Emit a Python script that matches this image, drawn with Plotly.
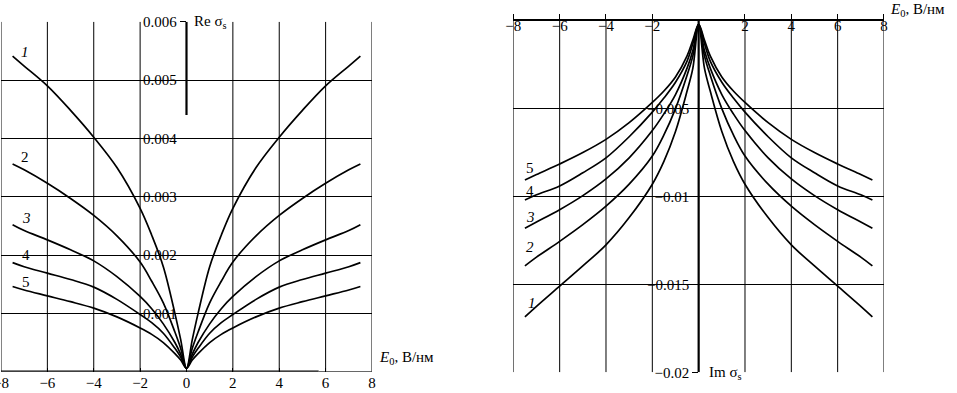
import plotly.graph_objects as go

# ---------------- data ----------------
E0 = [-7.5, -7, -6, -5, -4, -3, -2, -1.5, -1, -0.5, -0.25, 0,
      0.25, 0.5, 1, 1.5, 2, 3, 4, 5, 6, 7, 7.5]

re_1 = [0.00541, 0.00524, 0.00490, 0.00448, 0.00402, 0.00350, 0.00280, 0.00234, 0.00180, 0.00100, 0.00055, 0.00006,
        0.00055, 0.00100, 0.00180, 0.00234, 0.00280, 0.00350, 0.00402, 0.00448, 0.00490, 0.00524, 0.00541]
re_2 = [0.00356, 0.00346, 0.00323, 0.00297, 0.00268, 0.00233, 0.00188, 0.00155, 0.00118, 0.00068, 0.00040, 0.00006,
        0.00040, 0.00068, 0.00118, 0.00155, 0.00188, 0.00233, 0.00268, 0.00297, 0.00323, 0.00346, 0.00356]
re_3 = [0.00252, 0.00242, 0.00226, 0.00209, 0.00190, 0.00163, 0.00129, 0.00108, 0.00082, 0.00050, 0.00030, 0.00006,
        0.00030, 0.00050, 0.00082, 0.00108, 0.00129, 0.00163, 0.00190, 0.00209, 0.00226, 0.00242, 0.00252]
re_4 = [0.00187, 0.00180, 0.00169, 0.00158, 0.00145, 0.00124, 0.00098, 0.00084, 0.00066, 0.00040, 0.00025, 0.00006,
        0.00025, 0.00040, 0.00066, 0.00084, 0.00098, 0.00124, 0.00145, 0.00158, 0.00169, 0.00180, 0.00187]
re_5 = [0.00146, 0.00140, 0.00130, 0.00120, 0.00109, 0.00094, 0.00075, 0.00064, 0.00050, 0.00031, 0.00020, 0.00006,
        0.00020, 0.00031, 0.00050, 0.00064, 0.00075, 0.00094, 0.00109, 0.00120, 0.00130, 0.00140, 0.00146]

im_1 = [-0.01685, -0.01625, -0.01510, -0.01395, -0.01275, -0.01120, -0.00930, -0.00800, -0.00630, -0.00400, -0.00270, -0.00020,
        -0.00270, -0.00400, -0.00630, -0.00800, -0.00930, -0.01120, -0.01275, -0.01395, -0.01510, -0.01625, -0.01685]
im_2 = [-0.01395, -0.01345, -0.01255, -0.01160, -0.01055, -0.00930, -0.00770, -0.00650, -0.00500, -0.00310, -0.00200, -0.00020,
        -0.00200, -0.00310, -0.00500, -0.00650, -0.00770, -0.00930, -0.01055, -0.01160, -0.01255, -0.01345, -0.01395]
im_3 = [-0.01180, -0.01145, -0.01075, -0.00995, -0.00900, -0.00780, -0.00625, -0.00530, -0.00420, -0.00270, -0.00170, -0.00020,
        -0.00170, -0.00270, -0.00420, -0.00530, -0.00625, -0.00780, -0.00900, -0.00995, -0.01075, -0.01145, -0.01180]
im_4 = [-0.01020, -0.00990, -0.00940, -0.00865, -0.00780, -0.00660, -0.00520, -0.00440, -0.00350, -0.00230, -0.00130, -0.00020,
        -0.00130, -0.00230, -0.00350, -0.00440, -0.00520, -0.00660, -0.00780, -0.00865, -0.00940, -0.00990, -0.01020]
im_5 = [-0.00906, -0.00875, -0.00815, -0.00750, -0.00675, -0.00580, -0.00465, -0.00400, -0.00320, -0.00200, -0.00110, -0.00020,
        -0.00110, -0.00200, -0.00320, -0.00400, -0.00465, -0.00580, -0.00675, -0.00750, -0.00815, -0.00875, -0.00906]

curve_names = ["1", "2", "3", "4", "5"]
x_ticks_left = [-8, -6, -4, -2, 0, 2, 4, 6, 8]
x_ticks_right = [-8, -6, -4, -2, 2, 4, 6, 8]
x_grid_left = [-8, -6, -4, -2, 2, 4, 6, 8]
x_grid_right = [-8, -6, -4, -2, 2, 4, 6, 8]
re_ticks = [0.001, 0.002, 0.003, 0.004, 0.005, 0.006]
im_ticks = [-0.02, -0.015, -0.01, -0.005]

FONT = "Liberation Serif"
fig = go.Figure()

for ys in [re_1, re_2, re_3, re_4, re_5]:
    fig.add_trace(go.Scatter(x=E0, y=ys, mode="lines", xaxis="x", yaxis="y",
                             line=dict(color="black", width=1.7, shape="spline", smoothing=1.0),
                             showlegend=False, hoverinfo="skip"))
for ys in [im_1, im_2, im_3, im_4, im_5]:
    fig.add_trace(go.Scatter(x=E0, y=ys, mode="lines", xaxis="x2", yaxis="y2",
                             line=dict(color="black", width=1.7, shape="spline", smoothing=1.0),
                             showlegend=False, hoverinfo="skip"))

shapes = []
for gx in x_grid_left:
    shapes.append(dict(type="line", xref="x", yref="y", x0=gx, x1=gx, y0=0, y1=0.006,
                       line=dict(color="black", width=1), layer="below"))
shapes.append(dict(type="line", xref="x", yref="y", x0=0, x1=0, y0=0.0044, y1=0.006,
                   line=dict(color="black", width=2.2)))
shapes.append(dict(type="line", xref="x", yref="y", x0=-8, x1=5.7, y0=0, y1=0,
                   line=dict(color="black", width=2.2)))
shapes.append(dict(type="line", xref="x", yref="y", x0=5.7, x1=8, y0=0, y1=0,
                   line=dict(color="black", width=1)))
for gx in x_grid_right:
    shapes.append(dict(type="line", xref="x2", yref="y2", x0=gx, x1=gx, y0=-0.02, y1=0,
                       line=dict(color="black", width=1), layer="below"))
shapes.append(dict(type="line", xref="x2", yref="y2", x0=0, x1=0, y0=-0.02, y1=0,
                   line=dict(color="black", width=2.2)))

tickfont = dict(family=FONT, size=15, color="black")

fig.update_layout(
    width=957, height=393,
    margin=dict(l=0, r=0, t=0, b=0, autoexpand=False),
    paper_bgcolor="white", plot_bgcolor="white",
    shapes=shapes,
    xaxis=dict(domain=[0.00104, 0.3887], range=[-8, 8], anchor="y", automargin=False,
               tickvals=x_ticks_left, ticks="inside", ticklen=4, tickcolor="black",
               ticklabeloverflow="allow",
               showgrid=False, zeroline=False, showline=False,
               tickfont=tickfont),
    yaxis=dict(domain=[0.0542, 0.9448], range=[0, 0.006], anchor="free", position=0.194,
               automargin=False,
               tickvals=re_ticks, ticks="outside", ticklen=6, tickcolor="black",
               showgrid=True, gridcolor="black", gridwidth=1,
               zeroline=False, showline=False, tickfont=tickfont),
    xaxis2=dict(domain=[0.5364, 0.9237], range=[-8, 8], anchor="y2", side="top",
                automargin=False,
                tickvals=x_ticks_right, ticks="outside", ticklen=5, tickcolor="black",
                ticklabelposition="inside", ticklabeloverflow="allow",
                showgrid=False, zeroline=False, showline=True, linecolor="black", linewidth=2.2,
                tickfont=tickfont),
    yaxis2=dict(domain=[0.0527, 0.9473], range=[-0.02, 0], anchor="free", position=0.7297,
                automargin=False,
                tickvals=im_ticks, ticks="outside", ticklen=6, tickcolor="black",
                showgrid=True, gridcolor="black", gridwidth=1,
                zeroline=False, showline=False, tickfont=tickfont),
)

ann_font = dict(family=FONT, size=15, color="black")
annotations = [
    dict(text="Re σ<sub>s</sub>", x=0.2006, y=0.944, xref="paper", yref="paper",
         xanchor="left", yanchor="middle", showarrow=False, font=ann_font),
    dict(text="Im σ<sub>s</sub>", x=0.7388, y=0.050, xref="paper", yref="paper",
         xanchor="left", yanchor="middle", showarrow=False, font=ann_font),
    dict(text="<i>E</i><sub>0</sub>, В/нм", x=0.394, y=0.089, xref="paper", yref="paper",
         xanchor="left", yanchor="middle", showarrow=False, font=ann_font),
    dict(text="<i>E</i><sub>0</sub>, В/нм", x=0.928, y=0.975, xref="paper", yref="paper",
         xanchor="left", yanchor="middle", showarrow=False, font=ann_font),
]
left_lab = [(-6.965, 0.00548, True), (-6.965, 0.00368, False), (-6.92, 0.002635, True),
            (-6.92, 0.0020, False), (-6.92, 0.001538, False)]
for name, (lx, ly, it) in zip(curve_names, left_lab):
    annotations.append(dict(text=f"<i>{name}</i>" if it else name, x=lx, y=ly, xref="x", yref="y",
                            showarrow=False, font=ann_font))
right_lab = [(-7.2, -0.01608, True), (-7.26, -0.01286, True), (-7.26, -0.01118, True),
             (-7.26, -0.00969, False), (-7.26, -0.0084, False)]
for name, (lx, ly, it) in zip(curve_names, right_lab):
    annotations.append(dict(text=f"<i>{name}</i>" if it else name, x=lx, y=ly, xref="x2", yref="y2",
                            showarrow=False, font=ann_font))
fig.update_layout(annotations=annotations)

fig.write_html("out.html", config={"displayModeBar": False},
               post_script="document.body.style.margin='0';document.body.style.padding='0';")
